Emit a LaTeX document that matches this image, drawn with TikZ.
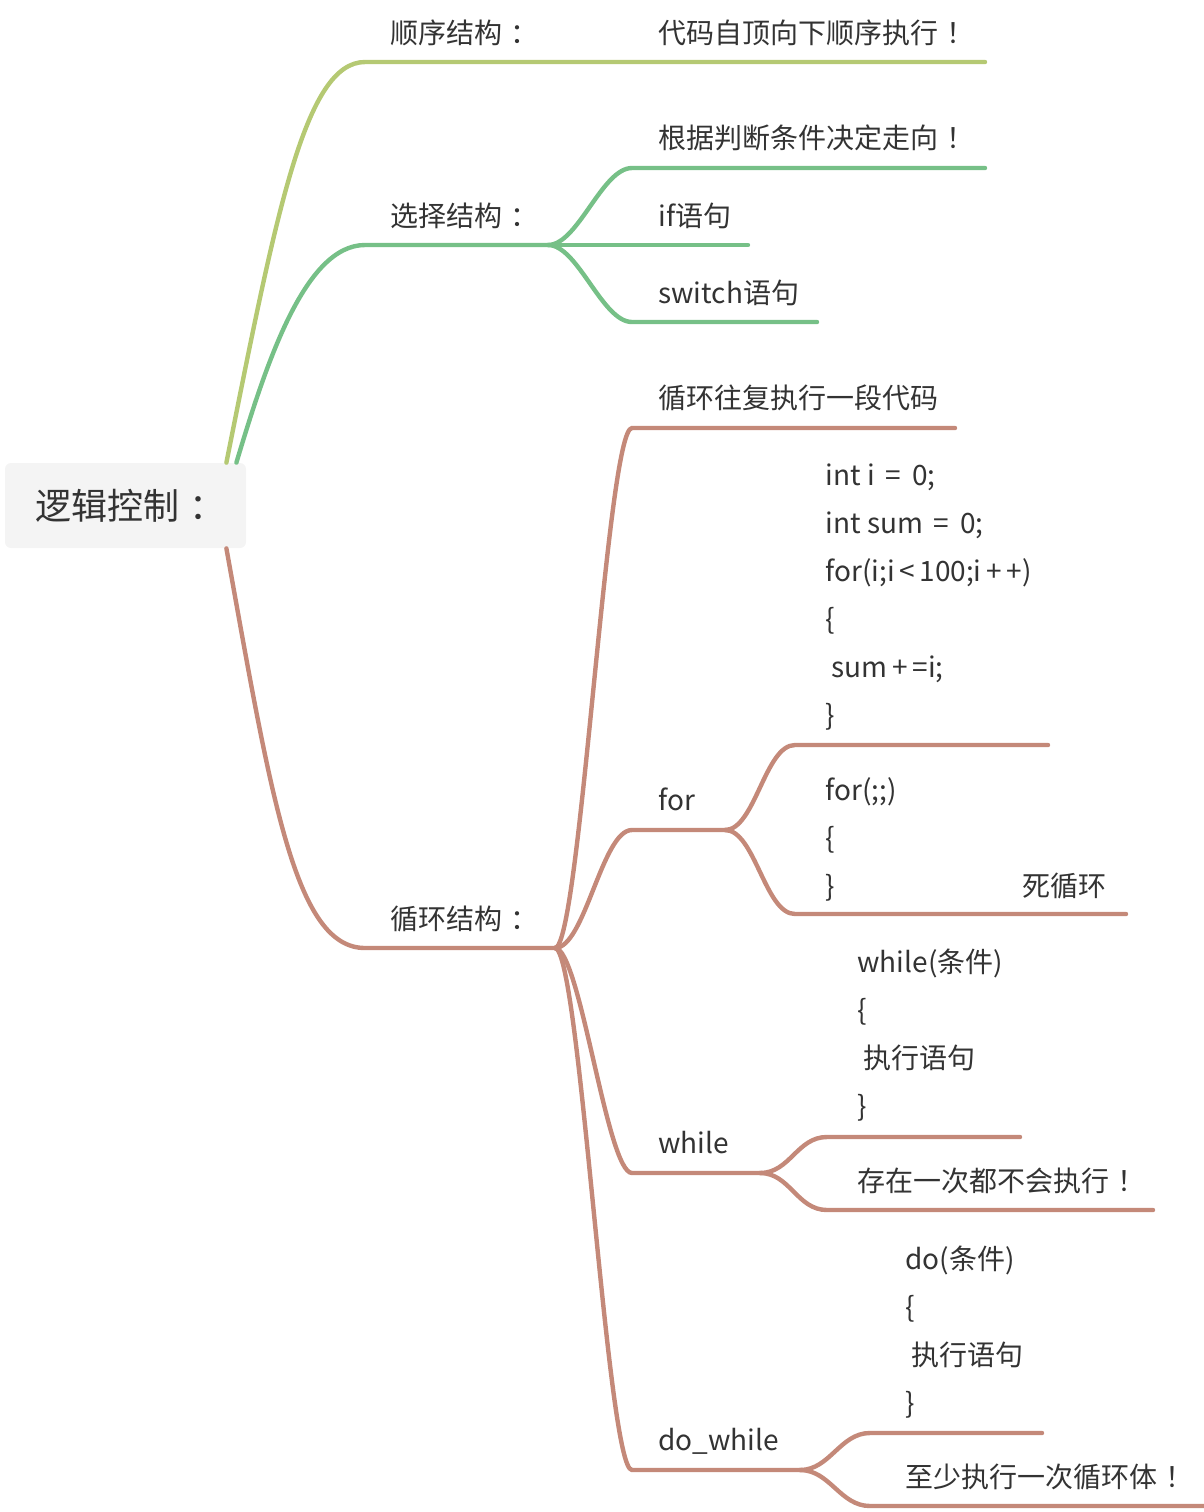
\documentclass[tikz,border=0pt]{standalone}
\usepackage{fontspec}
\setmainfont{Noto Sans CJK SC}
\usetikzlibrary{
positioning
}
\definecolor{seqline}{RGB}{181,201,115}
\definecolor{selline}{RGB}{118,192,135}
\definecolor{loopline}{RGB}{196,137,121}
\definecolor{rootfill}{RGB}{244,244,244}
\definecolor{txt}{RGB}{51,51,51}
% full width marks set in the middle of their cell
\newcommand{\zwcolon}{\kern0.3em：}
\newcommand{\zwbang}{\kern0.3em！}
\tikzset{
rootbox/.style={
fill=rootfill,
rounded corners=3pt,
minimum width=120.5pt,
minimum height=42.5pt,
font=\fontsize{18}{20}\selectfont,
text=txt
},
topic/.style={
anchor=base west,
inner sep=0pt,
font=\fontsize{14}{24}\selectfont,
text=txt
},
codeblock/.style={
topic,
align=left
},
branch/.style={
line width=2.2pt,
line cap=round
}
}

\begin{document}
\begin{tikzpicture}[x=0.5pt,y=-0.5pt]
\useasboundingbox (0,0) rectangle (1204,1512);

\node[rootbox] (root) at (125.5,505.5) {\hspace{5pt}逻辑控制\zwcolon};

% first level
\coordinate (seq) at (365,62);
\coordinate (seqend) at (985,62);
\coordinate (sel) at (365,245);
\coordinate (selj) at (548,245);
\coordinate (loop) at (365,948);
\coordinate (loopj) at (555,948);

\node[topic] (seqlbl) at (390,43) {顺序结构\zwcolon};
\node[topic] (sellbl) at (390,226) {选择结构\zwcolon};
\node[topic] (looplbl) at (390,929) {循环结构\zwcolon};

\draw[branch, seqline] ([xshift=-10pt]root.north east) .. controls +(50,-250) and +(-60,0) .. (seq) -- (seqend);
\draw[branch, selline] ([xshift=-5pt]root.north east) .. controls +(30,-100) and +(-60,0) .. (sel) -- (selj);
\draw[branch, loopline] ([xshift=-10pt]root.south east) .. controls +(45,250) and +(-70,0) .. (loop) -- (loopj);

\node[topic] (seqtxt) at (658,43) {代码自顶向下顺序执行\zwbang};

% selection
\coordinate (cond) at (632,168);
\coordinate (condend) at (985,168);
\coordinate (ifend) at (748,245);
\coordinate (sw) at (632,322);
\coordinate (swend) at (817,322);

\node[topic] (condtxt) at (658,148) {根据判断条件决定走向\zwbang};
\node[topic] (iftxt) at (658,226) {if语句};
\node[topic] (swtxt) at (658,303) {switch语句};

\draw[branch, selline] (selj) .. controls +(30,0) and +(-30,0) .. (cond) -- (condend);
\draw[branch, selline] (selj) -- (ifend);
\draw[branch, selline] (selj) .. controls +(30,0) and +(-30,0) .. (sw) -- (swend);

% loop
\coordinate (rep) at (632,428);
\coordinate (repend) at (955,428);
\coordinate (for) at (632,830);
\coordinate (forj) at (725,830);
\coordinate (wh) at (632,1173);
\coordinate (whj) at (760,1173);
\coordinate (dw) at (632,1470);
\coordinate (dwj) at (800,1470);

\node[topic] (reptxt) at (658,408) {循环往复执行一段代码};
\node[topic] (fortxt) at (658,810) {for};
\node[topic] (whtxt) at (658,1153) {while};
\node[topic] (dwtxt) at (658,1450) {do\_while};

\draw[branch, loopline] (loopj) .. controls +(25,0) and +(-25,0) .. (rep) -- (repend);
\draw[branch, loopline] (loopj) .. controls +(30,0) and +(-30,0) .. (for) -- (forj);
\draw[branch, loopline] (loopj) .. controls +(25,0) and +(-25,0) .. (wh) -- (whj);
\draw[branch, loopline] (loopj) .. controls +(25,0) and +(-25,0) .. (dw) -- (dwj);

% for (base is the last line)
\coordinate (fora) at (795,745);
\coordinate (foraend) at (1048,745);
\coordinate (forb) at (795,914);
\coordinate (forbend) at (1126,914);

\node[codeblock] (forcode) at (825,725) {int i \,=\, 0;\\int sum \,=\, 0;\\for(i;i\,<\,100;i\,+\,+)\\\{\\\ sum\,+\,=i;\\\}};
\node[codeblock] (forever) at (825,896) {for(;;)\\\{\\\}};
\node[topic] (forevertxt) at (1022,896) {死循环};

\draw[branch, loopline] (forj) .. controls +(30,0) and +(-30,0) .. (fora) -- (foraend);
\draw[branch, loopline] (forj) .. controls +(30,0) and +(-30,0) .. (forb) -- (forbend);

% while
\coordinate (wha) at (827,1137);
\coordinate (whaend) at (1020,1137);
\coordinate (whb) at (827,1210);
\coordinate (whbend) at (1153,1210);

\node[codeblock] (whcode) at (857,1116) {while(条件)\\\{\\\ 执行语句\\\}};
\node[topic] (whnote) at (857,1191) {存在一次都不会执行\zwbang};

\draw[branch, loopline] (whj) .. controls +(30,0) and +(-30,0) .. (wha) -- (whaend);
\draw[branch, loopline] (whj) .. controls +(30,0) and +(-30,0) .. (whb) -- (whbend);

% do while
\coordinate (dwa) at (870,1433);
\coordinate (dwaend) at (1042,1433);
\coordinate (dwb) at (870,1506);
\coordinate (dwbend) at (1210,1506);

\node[codeblock] (dwcode) at (905,1413) {do(条件)\\\{\\\ 执行语句\\\}};
\node[topic] (dwnote) at (905,1487) {至少执行一次循环体\zwbang};

\draw[branch, loopline] (dwj) .. controls +(30,0) and +(-30,0) .. (dwa) -- (dwaend);
\draw[branch, loopline] (dwj) .. controls +(30,0) and +(-30,0) .. (dwb) -- (dwbend);

\end{tikzpicture}
\end{document}
